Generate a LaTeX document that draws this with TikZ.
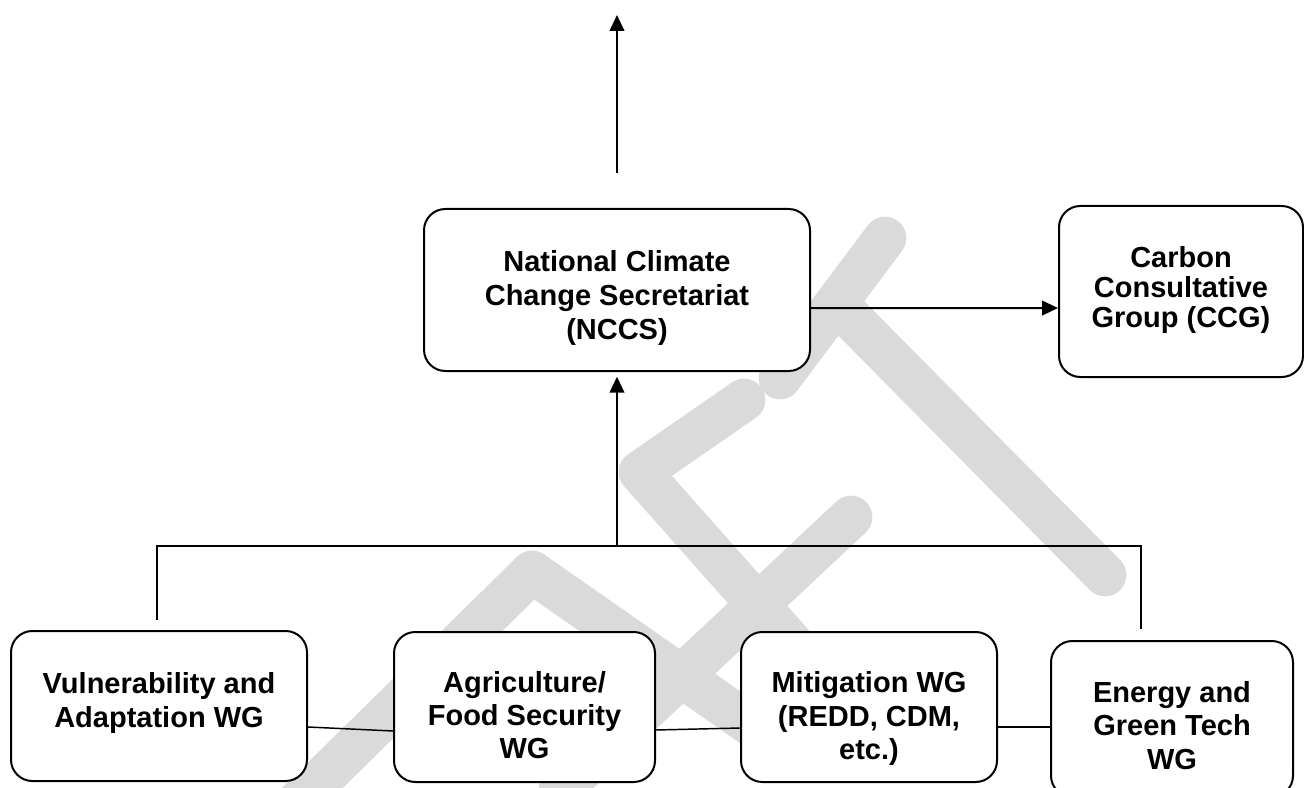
\documentclass[tikz,border=0pt]{standalone}
\usepackage{fontspec}
\setmainfont{Liberation Sans}
\usetikzlibrary{arrows.meta}
\definecolor{wm}{RGB}{218,218,218}
\begin{document}
\begin{tikzpicture}[x=0.75pt,y=-0.75pt,
  box/.style={draw=black,line width=1.5pt,rounded corners=16pt,fill=white,inner sep=0pt},
  lbl/.style={font=\bfseries\fontsize{21.75pt}{25pt}\selectfont,align=center,inner sep=0pt,anchor=north},
  lblwide/.style={lbl,font=\bfseries\fontsize{21.75pt}{25.5pt}\selectfont},
  lbltight/.style={lbl,font=\bfseries\fontsize{21.75pt}{22.5pt}\selectfont},
  conn/.style={line width=1.4pt},
  thin/.style={line width=1.1pt},
  arr/.style={line width=1.5pt,-{Triangle[length=12pt,width=11pt]}},
  wmark/.style={line width=32pt,line cap=round,line join=round,draw=wm}]
\useasboundingbox (0,0) rectangle (1304,788);
% watermark
\begin{scope}
\clip (0,0) rectangle (1304,788);
\draw[wmark] (885,238) -- (780,378);
\draw[wmark] (838,305) -- (1105,575);
\draw[wmark] (744,400) -- (640,472) -- (860,720);
\draw[wmark] (851,517) -- (560,790);
\draw[wmark] (532,572) -- (295,805);
\draw[wmark] (532,572) -- (780,745);
\end{scope}
% boxes
\node[box,minimum width=289.5pt,minimum height=121.5pt] (nccs) at (617,290) {};
\node[box,minimum width=183pt,minimum height=128.25pt] (ccg) at (1181,291.5) {};
\node[box,minimum width=222pt,minimum height=112.5pt] (vna) at (159,706) {};
\node[box,minimum width=195.75pt,minimum height=112.5pt] (agr) at (524.5,707) {};
\node[box,minimum width=192pt,minimum height=112.5pt] (mit) at (869,707) {};
\node[box,minimum width=181.5pt,minimum height=117pt] (egt) at (1172,719) {};
% texts
\node[lblwide] (tnccs) at ([yshift=-32pt]nccs.north) {National Climate\\Change Secretariat\\(NCCS)};
\node[lbltight] (tccg) at ([yshift=-31pt]ccg.north) {Carbon\\Consultative\\Group (CCG)};
\node[lbl] (tvna) at ([yshift=-32pt]vna.north) {Vulnerability and\\Adaptation WG};
\node[lbl] (tagr) at ([yshift=-30pt]agr.north) {Agriculture/\\Food Security\\WG};
\node[lbl] (tmit) at ([yshift=-30.5pt]mit.north) {Mitigation WG\\(REDD, CDM,\\etc.)};
\node[lbl] (tegt) at ([yshift=-31pt]egt.north) {Energy and\\Green Tech\\WG};
% connectors
\coordinate (upstart) at (617,173);
\coordinate (uptip) at (617,15);
\draw[arr] (upstart) -- (uptip);
\draw[arr] ([yshift=-13.5pt]nccs.east) -- ([yshift=-12.4pt]ccg.west);
\coordinate (busL) at (157,546);
\coordinate (busM) at (617,546);
\coordinate (busR) at (1141,546);
\coordinate (vnaup) at (157,620);
\coordinate (egtup) at (1141,629);
\draw[conn] (vnaup) -- (busL) -- (busR) -- (egtup);
\draw[arr,shorten >=3.5pt] (busM) -- (nccs.south);
\draw[thin] ([yshift=-15.75pt]vna.east) -- ([yshift=-18pt]agr.west);
\draw[thin] ([yshift=-17.25pt]agr.east) -- ([yshift=-15.75pt]mit.west);
\draw[thin] ([yshift=-15pt]mit.east) -- ([yshift=-6pt]egt.west);
\end{tikzpicture}
\end{document}
